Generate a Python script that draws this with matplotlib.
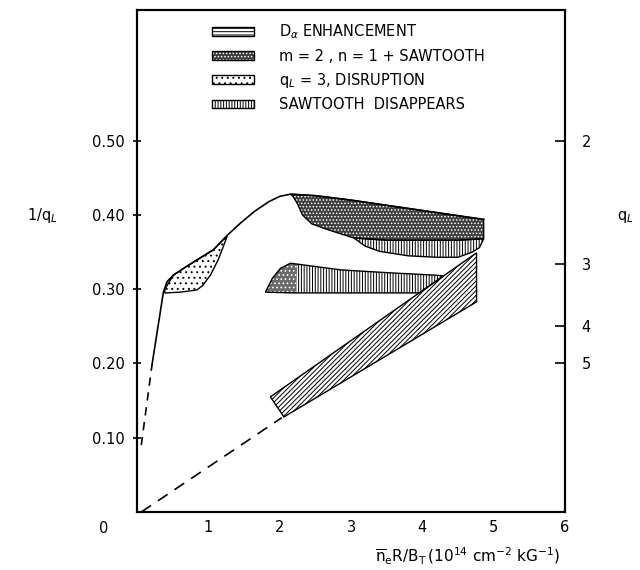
import matplotlib
matplotlib.use('Agg')
import matplotlib.pyplot as plt
from matplotlib.patches import Patch

plt.rcParams['font.family'] = ['DejaVu Sans']
plt.rcParams['mathtext.fontset'] = 'dejavusans'
plt.rcParams['hatch.linewidth'] = 0.7

# ---- data ----
curve_x = [0.21, 0.37, 0.42, 0.51, 0.70, 0.90, 1.07, 1.27, 1.45, 1.65, 1.85, 2.00, 2.15, 2.50, 3.00, 3.50, 4.00, 4.50, 4.86]
curve_y = [0.198, 0.296, 0.310, 0.319, 0.331, 0.343, 0.353, 0.373, 0.389, 0.405, 0.418, 0.425, 0.428, 0.426, 0.420, 0.413, 0.406, 0.399, 0.394]

dash_steep_x = [0.06, 0.21]
dash_steep_y = [0.09, 0.198]
dash_low_x = [0.06, 2.03]
dash_low_y = [0.0, 0.127]

# m=2,n=1 + sawtooth (dark region)
dark_x = [2.15, 2.50, 3.00, 3.50, 4.00, 4.50, 4.86, 4.86, 4.50, 4.00, 3.50, 3.04, 2.68, 2.45, 2.32, 2.25, 2.18]
dark_y = [0.428, 0.426, 0.420, 0.413, 0.406, 0.399, 0.394, 0.368, 0.366, 0.366, 0.366, 0.369, 0.380, 0.388, 0.400, 0.415, 0.426]

# sawtooth disappears (vertical lines, upper)
saw_x = [3.04, 3.50, 4.00, 4.50, 4.86, 4.80, 4.70, 4.50, 4.20, 3.80, 3.40, 3.20]
saw_y = [0.369, 0.366, 0.366, 0.366, 0.368, 0.356, 0.350, 0.343, 0.343, 0.345, 0.351, 0.358]

# middle band (vertical lines) and its stippled left end
band_x = [1.80, 1.90, 2.01, 2.15, 2.39, 2.86, 3.56, 4.17, 4.30, 3.96, 2.22]
band_y = [0.296, 0.315, 0.328, 0.335, 0.332, 0.326, 0.322, 0.319, 0.318, 0.295, 0.295]
band_stip_x = [1.80, 1.90, 2.01, 2.15, 2.25, 2.22]
band_stip_y = [0.296, 0.315, 0.328, 0.335, 0.334, 0.295]

# q_L = 3 disruption lens (light dots)
lens_x = [0.39, 0.51, 0.70, 0.90, 1.07, 1.27, 1.22, 1.14, 1.03, 0.92, 0.84, 0.60, 0.39]
lens_y = [0.300, 0.319, 0.331, 0.343, 0.353, 0.373, 0.360, 0.340, 0.319, 0.305, 0.299, 0.296, 0.295]

# D_alpha enhancement band (hatched)
dalpha_x = [1.87, 2.06, 4.76, 4.76]
dalpha_y = [0.155, 0.128, 0.283, 0.349]

x_ticks = [1, 2, 3, 4, 5, 6]
y_ticks = [0.10, 0.20, 0.30, 0.40, 0.50]
y_ticklabels = ['0.10', '0.20', '0.30', '0.40', '0.50']
q_values = [2, 3, 4, 5]

legend_labels = [r'D$_\alpha$ ENHANCEMENT', 'm = 2 , n = 1 + SAWTOOTH',
                 r'q$_L$ = 3, DISRUPTION', 'SAWTOOTH  DISAPPEARS']

# ---- figure ----
fig = plt.figure(figsize=(6.4, 5.7), dpi=100)
ax = fig.add_axes([137/640, 58/570, 428/640, 502/570])
ax.set_xlim(0, 6.0)
ax.set_ylim(0, 0.676)

def region(xs, ys, fc, hc, hatch):
    ax.fill(xs, ys, facecolor=fc, edgecolor=hc, hatch=hatch, linewidth=0, zorder=2)
    ax.fill(xs, ys, facecolor='none', edgecolor='black', linewidth=1.0, zorder=3)

region(saw_x, saw_y, 'white', 'black', '||||||')
region(dark_x, dark_y, '#3e3e3e', 'white', '.....')
region(band_x, band_y, 'white', 'black', '||||||')
ax.fill(band_stip_x, band_stip_y, facecolor='#6a6a6a', edgecolor='white', hatch='....', linewidth=0, zorder=2)
region(lens_x, lens_y, 'white', 'black', '...')
region(dalpha_x, dalpha_y, 'white', 'black', '///////')

ax.plot(curve_x, curve_y, color='black', lw=1.2, zorder=4)
ax.plot(dash_steep_x, dash_steep_y, color='black', lw=1.2, ls=(0, (5, 4)), zorder=4)
ax.plot(dash_low_x, dash_low_y, color='black', lw=1.2, ls=(0, (7, 5)), zorder=4)

for s in ax.spines.values():
    s.set_linewidth(1.5)

ax.set_xticks(x_ticks)
ax.set_xticklabels([str(v) for v in x_ticks])
ax.tick_params(axis='x', length=0, pad=6, labelsize=10.5)
ax.set_yticks(y_ticks)
ax.set_yticklabels(y_ticklabels)
ax.tick_params(axis='y', direction='inout', length=6, width=1.2, pad=6, labelsize=10.5)
ax.text(-0.077, -0.032, '0', transform=ax.transAxes, ha='center', va='center', fontsize=10.5)

ax2 = ax.twinx()
ax2.set_ylim(ax.get_ylim())
ax2.set_yticks([1.0/q for q in q_values])
ax2.set_yticklabels([str(q) for q in q_values])
ax2.tick_params(axis='y', direction='in', length=7, width=1.2, pad=12, labelsize=10.5)
for s in ax2.spines.values():
    s.set_linewidth(1.5)

fig.text(42/640, 1 - 215/570, r'1/q$_L$', ha='center', va='center', fontsize=10.5)
fig.text(625/640, 1 - 217/570, r'q$_L$', ha='center', va='center', fontsize=10.5)
fig.text(468/640, 1 - 556/570,
         r'$\overline{\mathrm{n}}_\mathrm{e}\mathrm{R/B}_\mathrm{T}\,(10^{14}\ \mathrm{cm}^{-2}\ \mathrm{kG}^{-1})$',
         ha='center', va='center', fontsize=11)

handles = [
    (Patch(facecolor='white', edgecolor='black', hatch='-----', linewidth=1.0),),
    (Patch(facecolor='#3e3e3e', edgecolor='white', hatch='.....', linewidth=0),
     Patch(facecolor='none', edgecolor='black', linewidth=1.0)),
    (Patch(facecolor='white', edgecolor='black', hatch='...', linewidth=1.0),),
    (Patch(facecolor='white', edgecolor='black', hatch='||||||', linewidth=1.0),),
]
leg = ax.legend(handles, legend_labels, loc='upper left', bbox_to_anchor=(0.175, 0.975),
                frameon=False, fontsize=10.5, handlelength=2.9, handleheight=0.55,
                handletextpad=1.7, labelspacing=0.5, borderpad=0, borderaxespad=0)

fig.savefig('out.png', dpi=100)
